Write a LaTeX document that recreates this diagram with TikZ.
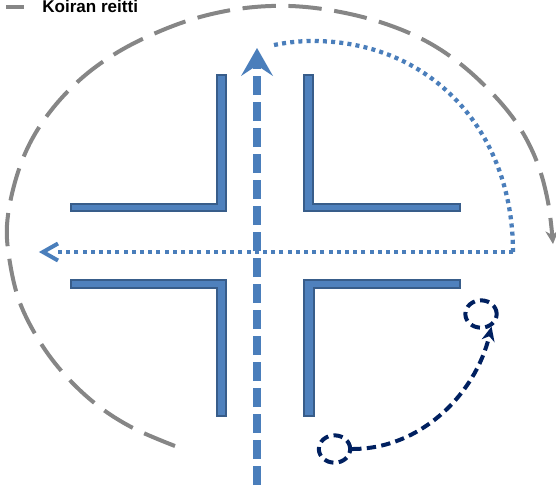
\documentclass[tikz,border=0pt]{standalone}
\usepackage{fontspec}
\setmainfont{Liberation Sans}
\usetikzlibrary{arrows.meta,shapes.geometric}
\definecolor{wallfill}{HTML}{4F81BD}
\definecolor{walledge}{HTML}{385D8A}
\definecolor{routeblue}{HTML}{4A7EBB}
\definecolor{routegray}{HTML}{868686}
\definecolor{routenavy}{HTML}{002060}
\tikzset{
  wall/.style={fill=wallfill,draw=walledge,line width=2.2pt,miter limit=4},
  straightroute/.style={draw=routeblue,line width=6pt,dash pattern=on 14.6pt off 4.9pt,
    -{Stealth[length=21pt,width=24pt,inset=8pt,line width=0pt,fill=routeblue,round]}},
  dotroute/.style={draw=routeblue,line width=3.2pt,dash pattern=on 3pt off 3.15pt},
  dogroute/.style={draw=routegray,line width=3pt,dash pattern=on 25pt off 9.5pt,
    -{Stealth[length=10pt,width=10pt,line width=0pt,fill=routegray]}},
  navyroute/.style={draw=routenavy,line width=3pt,dash pattern=on 7pt off 4pt,
    -{Stealth[length=11pt,width=10pt,line width=0pt,fill=routenavy]}},
  marker/.style={ellipse,draw=routenavy,line width=3pt,dash pattern=on 7pt off 4pt,
    minimum width=23.5pt,minimum height=20.5pt,inner sep=0pt},
}
\begin{document}
\begin{tikzpicture}[x=0.75pt,y=-0.75pt]
\useasboundingbox (0,0) rectangle (556,487);
% walls
\filldraw[wall] (71,204) -- (217,204) -- (217,75) -- (226,75) -- (226,211) -- (71,211) -- cycle;
\filldraw[wall] (304,75) -- (313,75) -- (313,204) -- (460,204) -- (460,211) -- (304,211) -- cycle;
\filldraw[wall] (71,280) -- (226,280) -- (226,416) -- (217,416) -- (217,288) -- (71,288) -- cycle;
\filldraw[wall] (304,280) -- (460,280) -- (460,288) -- (314,288) -- (314,416) -- (304,416) -- cycle;
% coordinates
\coordinate (straightstart) at (257,485);
\coordinate (straightend) at (257,48);
\coordinate (dotcorner) at (513,252);
\coordinate (dottop) at (313,41);
\coordinate (dotend) at (270,46);
\coordinate (legendstart) at (6,7);
\coordinate (legendend) at (24,7);
% blue straight route
\draw[straightroute] (straightstart) -- (straightend);
% dotted route
\draw[dotroute] (dotcorner) .. controls (513,130) and (430,41) .. (dottop)
   .. controls (297,41) and (282,43) .. (dotend);
\draw[dotroute] (dotcorner) -- (56,252);
\draw[routeblue,line width=3pt] (58,243.5) -- (43,252) -- (58,260.5);
% dog route
\draw[dogroute] plot[smooth,tension=0.6] coordinates {
 (175,446) (133,428) (97,405) (65,375) (40,342) (20,303) (10,263) (7,225)
 (15,182) (30,143) (53,108) (83,77) (118,52) (158,32) (200,17) (245,8)
 (290,6) (335,11) (380,22) (422,39) (458,62) (491,92) (518,125) (537,162)
 (548,202) (553,244)};
% dog markers
\node[marker] (startmark) at (334.5,449) {};
\node[marker] (endmark) at (481,314) {};
\draw[navyroute] (startmark.east) .. controls (420,449) and (475,395) .. (endmark.-50);
% legend
\draw[routegray,line width=2.6pt] (legendstart) -- (legendend);
\node[anchor=base west,inner sep=0pt,font=\fontsize{12.8pt}{14pt}\selectfont\bfseries,text=black] (legendtext) at (42,12.5) {Koiran reitti};
\end{tikzpicture}
\end{document}
